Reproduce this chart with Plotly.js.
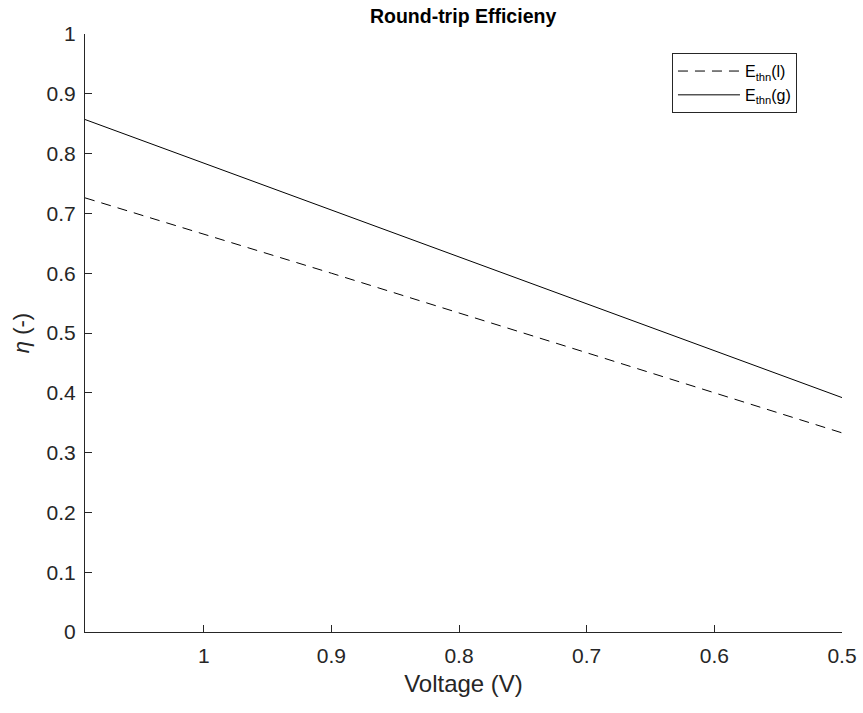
<!DOCTYPE html>
<html>
<head>
<meta charset="utf-8">
<script src="https://cdn.plot.ly/plotly-3.0.1.min.js"></script>
<style>html,body{margin:0;padding:0;background:#fff;}#chart{width:863px;height:713px;}</style>
</head>
<body>
<div id="chart"></div>
<script>
// Data
const voltage = [1.093, 0.9, 0.7, 0.5];
const etaLiquid = [0.726, 0.600, 0.467, 0.333];
const etaGas = [0.857, 0.706, 0.549, 0.392];
const seriesNames = ["E<sub>thn</sub>(l)", "E<sub>thn</sub>(g)"];
const xTicks = [1, 0.9, 0.8, 0.7, 0.6, 0.5];
const yTicks = [0, 0.1, 0.2, 0.3, 0.4, 0.5, 0.6, 0.7, 0.8, 0.9, 1];

const axisColor = '#262626';
const fam = 'Liberation Sans, Arial, sans-serif';

const traces = [
  {x: voltage, y: etaLiquid, name: seriesNames[0], mode: 'lines', type: 'scatter',
   line: {color: '#000', width: 1, dash: '10px,7px'}},
  {x: voltage, y: etaGas, name: seriesNames[1], mode: 'lines', type: 'scatter',
   line: {color: '#000', width: 1}}
];

const layout = {
  width: 863, height: 713,
  margin: {l: 85, r: 21, t: 34, b: 81},
  paper_bgcolor: '#fff', plot_bgcolor: '#fff',
  font: {family: fam, size: 20, color: axisColor},
  title: {text: '<b>Round-trip Efficieny</b>', x: 0.5366, xanchor: 'center', y: 0.977, yanchor: 'middle',
          font: {family: fam, size: 19.5, color: '#000'}},
  xaxis: {
    range: [voltage[0], 0.5], autorange: false,
    tickvals: xTicks, ticktext: xTicks.map(String),
    ticks: 'inside', ticklen: 7, tickcolor: axisColor, tickwidth: 1,
    ticklabelstandoff: 5,
    showline: true, linecolor: axisColor, linewidth: 1, mirror: false,
    showgrid: false, zeroline: false,
    tickfont: {family: fam, size: 21, color: axisColor},
    title: {text: 'Voltage (V)', font: {family: fam, size: 24, color: axisColor}, standoff: 8}
  },
  yaxis: {
    range: [0, 1], autorange: false,
    tickvals: yTicks, ticktext: yTicks.map(String),
    ticks: 'inside', ticklen: 7, tickcolor: axisColor, tickwidth: 1,
    ticklabelstandoff: 4,
    showline: true, linecolor: axisColor, linewidth: 1, mirror: false,
    showgrid: false, zeroline: false,
    tickfont: {family: fam, size: 21, color: axisColor},
    title: {text: '<i>η</i> (-)', font: {family: fam, size: 22, color: axisColor}, standoff: 10}
  },
  showlegend: true,
  legend: {x: 0.7754, y: 0.968, xanchor: 'left', yanchor: 'top',
           bgcolor: '#fff', bordercolor: axisColor, borderwidth: 1,
           font: {family: fam, size: 16, color: '#000'}, itemwidth: 62, tracegroupgap: 0}
};

Plotly.newPlot('chart', traces, layout, {displayModeBar: false, staticPlot: true});
</script>
</body>
</html>
